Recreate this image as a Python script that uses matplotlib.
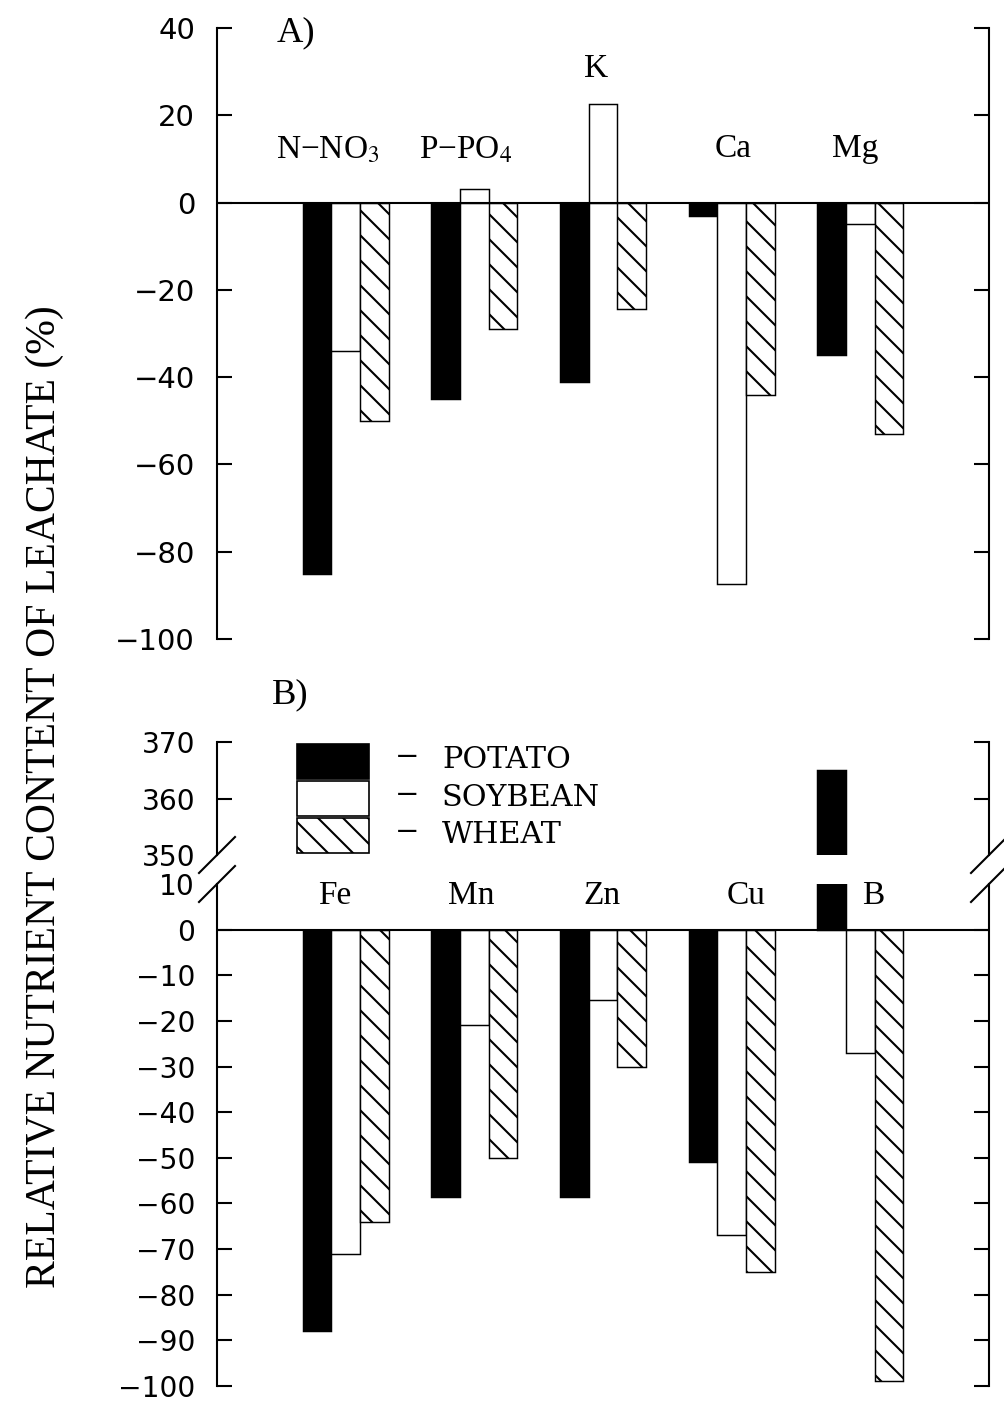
import numpy as np
import matplotlib
matplotlib.use("Agg")
import matplotlib.pyplot as plt
from matplotlib.patches import Rectangle

# panel A: macro nutrients (% change)
macro_names = ["N\u2212NO$_3$", "P\u2212PO$_4$", "K", "Ca", "Mg"]
macro_potato = [-85, -45, -41, -3, -35]
macro_soybean = [-34, 3, 22.5, -87.5, -5]
macro_wheat = [-50, -29, -24.5, -44, -53]

# panel B: micro nutrients (% change)
micro_names = ["Fe", "Mn", "Zn", "Cu", "B"]
micro_potato = [-88, -58.5, -58.5, -51, 365]
micro_soybean = [-71, -21, -15.5, -67, -27]
micro_wheat = [-64, -50, -30, -75, -99]

crops = ["POTATO", "SOYBEAN", "WHEAT"]

W, H, DPI = 1004, 1401, 150
plt.rcParams['font.family'] = ['DejaVu Sans']
plt.rcParams['mathtext.fontset'] = 'stix'
plt.rcParams['hatch.linewidth'] = 1.0

SERIF = ['Liberation Serif', 'DejaVu Serif']
WIDE_SERIF = ['DejaVu Serif']
HATCH = '\\\\'


def fx(px):
    return px / W


def fy(py):
    return 1 - py / H


def style_axis(ax, labelsize):
    ax.spines['top'].set_visible(False)
    ax.spines['bottom'].set_visible(False)
    ax.spines['left'].set_linewidth(1.0)
    ax.spines['right'].set_linewidth(1.0)
    ax.tick_params(axis='y', direction='in', left=True, right=True,
                   length=7.2, width=1.0, pad=10.5, labelsize=labelsize)
    ax.tick_params(axis='x', bottom=False, labelbottom=False)
    ax.set_xlim(0, 6)
    ax.patch.set_alpha(0)


def draw_bars(ax, potato, soybean, wheat):
    x = np.arange(1, 6)
    w = 0.222
    ax.bar(x - w, potato, w, color='black', edgecolor='black', linewidth=0.7)
    ax.bar(x, soybean, w, color='white', edgecolor='black', linewidth=0.7)
    ax.bar(x + w, wheat, w, color='white', edgecolor='black', linewidth=0.7,
           hatch=HATCH)


def hide_tick(ax, idx):
    t = ax.yaxis.get_major_ticks()[idx]
    t.tick1line.set_visible(False)
    t.tick2line.set_visible(False)


fig = plt.figure(figsize=(W / DPI, H / DPI), dpi=DPI)
left, width = fx(217), fx(989) - fx(217)

# ---- panel A
axA = fig.add_axes([left, fy(639), width, fy(28) - fy(639)])
style_axis(axA, 14)
axA.set_ylim(-100, 40)
axA.set_yticks(np.arange(-100, 41, 20))
draw_bars(axA, macro_potato, macro_soybean, macro_wheat)
axA.axhline(0, color='black', lw=1.0)

macro_lx = [0.863, 1.935, 2.945, 4.01, 4.96]
macro_ly = [10.2, 10.2, 28.8, 10.5, 10.5]
for name, lx, ly in zip(macro_names, macro_lx, macro_ly):
    axA.text(lx, ly, name, ha='center', va='baseline', fontsize=16, family=SERIF)

fig.text(fx(277), fy(41), "A)", fontsize=17.5, family=SERIF, va='baseline')

# ---- panel B (broken axis)
axU = fig.add_axes([left, fy(855), width, fy(742) - fy(855)])
axL = fig.add_axes([left, fy(1386), width, fy(884) - fy(1386)])
style_axis(axU, 13.5)
style_axis(axL, 13.5)
axU.set_ylim(350, 370)
axU.set_yticks([350, 360, 370])
axL.set_ylim(-100, 10)
axL.set_yticks(np.arange(-100, 11, 10))
hide_tick(axU, 0)
hide_tick(axL, len(axL.get_yticks()) - 1)
for ax in (axU, axL):
    draw_bars(ax, micro_potato, micro_soybean, micro_wheat)
axL.axhline(0, color='black', lw=1.0)

# break marks on both spines
dxu, dyu = 18 / 772, 18 / 113
dyl = 18 / 502
for xs in (0, 1):
    axU.plot([xs - dxu, xs + dxu], [-dyu, dyu], transform=axU.transAxes,
             color='black', lw=1.0, clip_on=False)
    axL.plot([xs - dxu, xs + dxu], [1 - dyl, 1 + dyl], transform=axL.transAxes,
             color='black', lw=1.0, clip_on=False)

micro_lx = [0.917, 1.974, 2.99, 4.11, 5.10]
for name, lx in zip(micro_names, micro_lx):
    axL.text(lx, 5.6, name, ha='center', va='baseline', fontsize=16,
             family=SERIF, clip_on=False)

fig.text(fx(272), fy(703), "B)", fontsize=17.5, family=SERIF, va='baseline')

# legend
box_styles = [dict(facecolor='black'), dict(facecolor='white'),
              dict(facecolor='white', hatch=HATCH)]
box_tops = [744, 781, 818]
text_base = [768, 806, 843]
for crop, st, top, base in zip(crops, box_styles, box_tops, text_base):
    r = Rectangle((fx(297), fy(top + 35)), fx(72), fy(top) - fy(top + 35),
                  transform=fig.transFigure, edgecolor='black', linewidth=0.8, **st)
    fig.patches.append(r)
    fig.text(fx(395), fy(base - 3), "\u2212", fontsize=14, family=WIDE_SERIF,
             va='baseline')
    fig.text(fx(442), fy(base), crop, fontsize=14.5, family=WIDE_SERIF,
             va='baseline')

fig.text(fx(45), fy(797), "RELATIVE NUTRIENT CONTENT OF LEACHATE (%)",
         rotation=90, ha='center', va='center', fontsize=20,
         family=['Liberation Serif'])

fig.savefig("out.png", dpi=DPI)
